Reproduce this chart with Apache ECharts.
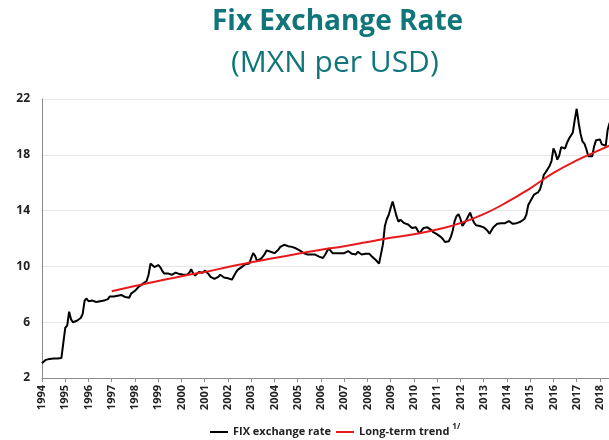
<!DOCTYPE html>
<html>
<head>
<meta charset="utf-8">
<script src="https://cdn.jsdelivr.net/npm/echarts@6/dist/echarts.min.js"></script>
<style>
  html, body { margin: 0; padding: 0; background: #fff; }
  #chart { width: 609px; height: 440px; }
</style>
</head>
<body>
<div id="chart"></div>
<script>
// monthly FIX rate, one array per year (Jan..Dec)
const fix1994 = [3.05, 3.10, 3.30, 3.36, 3.37, 3.38, 3.40, 3.39, 3.40, 3.42, 3.43, 3.48]
const fix1995 = [5.60, 5.75, 6.75, 6.20, 6.00, 6.10, 6.10, 6.20, 6.30, 6.60, 7.55, 7.70]
const fix1996 = [7.50, 7.55, 7.55, 7.45, 7.45, 7.55, 7.50, 7.50, 7.55, 7.60, 7.65, 7.85]
const fix1997 = [7.85, 7.85, 7.95, 7.90, 7.90, 7.95, 7.85, 7.80, 7.78, 7.75, 8.05, 8.10]
const fix1998 = [8.25, 8.40, 8.55, 8.65, 8.75, 8.80, 8.95, 9.40, 10.20, 10.10, 9.95, 10.00]
const fix1999 = [10.10, 9.95, 9.70, 9.50, 9.45, 9.50, 9.45, 9.40, 9.45, 9.55, 9.45, 9.45]
const fix2000 = [9.45, 9.40, 9.45, 9.40, 9.55, 9.80, 9.50, 9.35, 9.40, 9.60, 9.50, 9.55]
const fix2001 = [9.70, 9.65, 9.45, 9.25, 9.15, 9.10, 9.15, 9.25, 9.40, 9.35, 9.20, 9.15]
const fix2002 = [9.15, 9.05, 9.05, 9.30, 9.55, 9.75, 9.80, 9.95, 10.05, 10.15, 10.20, 10.20]
const fix2003 = [10.60, 10.95, 10.75, 10.40, 10.45, 10.55, 10.70, 10.90, 11.15, 11.15, 11.05, 11.05]
const fix2004 = [10.95, 11.05, 11.20, 11.40, 11.50, 11.55, 11.50, 11.45, 11.45, 11.40, 11.35, 11.30]
const fix2005 = [11.20, 11.15, 11.05, 10.95, 10.90, 10.85, 10.80, 10.85, 10.90, 10.85, 10.75, 10.70]
const fix2006 = [10.65, 10.60, 10.80, 11.05, 11.30, 11.40, 10.95, 10.90, 10.95, 10.90, 10.95, 10.90]
const fix2007 = [10.95, 11.05, 11.10, 11.00, 10.90, 10.80, 10.85, 11.05, 11.00, 10.85, 10.90, 10.90]
const fix2008 = [10.95, 10.90, 10.75, 10.65, 10.50, 10.35, 10.20, 10.15, 11.60, 12.90, 13.40, 13.70]
const fix2009 = [14.20, 14.65, 14.55, 13.60, 13.20, 13.35, 13.30, 13.10, 13.05, 13.00, 12.95, 12.75]
const fix2010 = [12.65, 12.80, 12.55, 12.35, 12.60, 12.75, 12.80, 12.80, 12.70, 12.60, 12.45, 12.35]
const fix2011 = [12.30, 12.20, 12.10, 11.95, 11.75, 11.70, 11.80, 12.10, 12.55, 13.25, 13.60, 13.75]
const fix2012 = [13.40, 12.90, 12.90, 13.30, 13.60, 13.85, 13.45, 13.15, 12.95, 12.95, 12.90, 12.85]
const fix2013 = [12.80, 12.70, 12.55, 12.35, 12.45, 12.80, 12.85, 13.05, 13.05, 13.10, 13.05, 13.10]
const fix2014 = [13.20, 13.25, 13.15, 13.05, 13.10, 13.10, 13.10, 13.20, 13.25, 13.40, 13.70, 14.40]
const fix2015 = [14.65, 14.90, 15.15, 15.20, 15.30, 15.50, 15.95, 16.55, 16.75, 16.85, 17.20, 17.55]
const fix2016 = [18.45, 18.15, 17.65, 17.95, 18.55, 18.50, 18.45, 18.85, 19.15, 19.10, 19.60, 20.50]
const fix2017 = [21.30, 20.30, 19.50, 18.95, 18.80, 18.40, 17.90, 17.85, 17.90, 18.60, 19.05, 19.15]
const fix2018 = [19.10, 18.75, 18.65, 18.65, 19.80, 20.30]

const fixYears = [fix1994, fix1995, fix1996, fix1997, fix1998, fix1999, fix2000, fix2001,
  fix2002, fix2003, fix2004, fix2005, fix2006, fix2007, fix2008, fix2009, fix2010, fix2011,
  fix2012, fix2013, fix2014, fix2015, fix2016, fix2017, fix2018]

// long-term trend read at each year start
const trendYears = [1997, 1998, 1999, 2000, 2001, 2002, 2003, 2004, 2005, 2006, 2007,
  2008, 2009, 2010, 2011, 2012, 2013, 2014, 2015, 2016, 2017, 2018, 2018.4]
const trendValues = [8.22, 8.60, 8.95, 9.30, 9.60, 9.95, 10.30, 10.60, 10.90, 11.20, 11.45,
  11.75, 12.05, 12.30, 12.65, 13.10, 13.75, 14.60, 15.60, 16.70, 17.60, 18.35, 18.65]

const fixData = []
fixYears.forEach((vals, i) => {
  vals.forEach((v, m) => fixData.push([1994 + i + m / 12, v]))
})
const trendData = trendYears.map((y, i) => [y, trendValues[i]])

const teal = '#10767a'
const font = 'Open Sans'

const chart = echarts.init(document.getElementById('chart'))
chart.setOption({
  animation: false,
  title: [
    {
      text: 'Fix Exchange Rate',
      left: 212,
      top: 8,
      padding: 0,
      textStyle: { color: teal, fontFamily: font, fontWeight: 'bold', fontSize: 28 },
    },
    {
      text: '(MXN per USD)',
      left: 231,
      top: 48,
      padding: 0,
      textStyle: { color: teal, fontFamily: font, fontWeight: 'normal', fontSize: 30 },
    },
  ],
  grid: { left: 42, right: 0, top: 99, bottom: 62 },
  xAxis: {
    type: 'value',
    min: 1994,
    max: 2018.39,
    interval: 1,
    axisLine: { lineStyle: { color: '#8c8c8c', width: 1 } },
    axisTick: { show: true, length: 4, lineStyle: { color: '#8c8c8c' } },
    splitLine: { show: false },
    axisLabel: {
      rotate: 90,
      margin: 7,
      showMaxLabel: false,
      color: '#222',
      fontFamily: font,
      fontWeight: 'bold',
      fontSize: 11,
      formatter: v => (Number.isInteger(v) ? String(v) : ''),
    },
  },
  yAxis: {
    type: 'value',
    min: 2,
    max: 22,
    interval: 4,
    axisLine: { show: true, lineStyle: { color: '#8c8c8c' } },
    axisTick: { show: false },
    splitLine: { lineStyle: { color: '#e6e6e6' } },
    axisLabel: { color: '#222', fontFamily: font, fontWeight: 'bold', fontSize: 12, margin: 12 },
  },
  legend: {
    top: 418,
    left: 205,
    itemWidth: 18,
    itemHeight: 2,
    itemGap: 5,
    icon: 'rect',
    textStyle: {
      color: '#222', fontFamily: font, fontWeight: 'bold', fontSize: 11,
      rich: {
        n: { color: '#222', fontFamily: font, fontWeight: 'bold', fontSize: 11 },
        s: { color: '#222', fontFamily: font, fontWeight: 'bold', fontSize: 8, padding: [0, 0, 10, 3] },
      },
    },
    formatter: name => (name === 'Long-term trend' ? '{n|Long-term trend}{s|1/}' : name),
    data: ['FIX exchange rate', 'Long-term trend'],
  },
  series: [
    {
      name: 'FIX exchange rate',
      type: 'line',
      data: fixData,
      symbol: 'none',
      color: '#000',
      lineStyle: { color: '#000', width: 2 },
    },
    {
      name: 'Long-term trend',
      type: 'line',
      data: trendData,
      smooth: true,
      symbol: 'none',
      color: '#e8191c',
      lineStyle: { color: '#e8191c', width: 2 },
    },
  ],
})
</script>
</body>
</html>
